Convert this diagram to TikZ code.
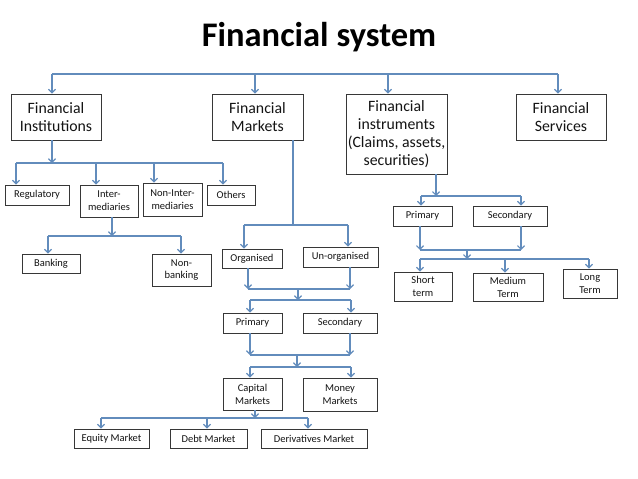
\documentclass[tikz,border=0pt]{standalone}
\usepackage{fontspec}
\setmainfont{Carlito}
\usepackage{tikz}
\usetikzlibrary{
  arrows.meta,
  positioning,
  calc
}
\definecolor{linkcolor}{RGB}{98, 140, 188}
\definecolor{boxcolor}{RGB}{55, 55, 55}
\definecolor{labelcolor}{RGB}{20, 20, 20}
\tikzset{
boxtext/.style={
  align=center,
  text=labelcolor
},
mainblock/.style={
  draw=boxcolor,
  line width=0.9pt,
  fill=white,
  inner sep=0pt,
  font=\fontsize{15.8}{18}\selectfont,
  boxtext
},
subblock/.style={
  draw=boxcolor,
  line width=0.9pt,
  fill=white,
  inner sep=0pt,
  font=\fontsize{10.5}{12.8}\selectfont,
  boxtext
},
titlelabel/.style={
  font=\fontsize{34.5}{38}\selectfont\bfseries,
  text=black
},
busline/.style={
  line width=1.2pt,
  draw=linkcolor
},
arrow/.style={
  -{Straight Barb[length=3.5pt,width=7pt]},
  line width=1.2pt,
  draw=linkcolor
}
}

\begin{document}
\begin{tikzpicture}[x=1pt, y=-1pt]

\useasboundingbox (0,0) rectangle (638,479);

% ============================================================================
% TITULO E NIVEL SUPERIOR
% ============================================================================
\node[titlelabel] (title) at (319,37) {Financial system};

\node[mainblock, minimum width=90, minimum height=46] (finst) at (56,117) {Financial\\Institutions};
\node[mainblock, minimum width=91, minimum height=46] (fmark) at (257.5,117) {Financial\\Markets};
\node[mainblock, minimum width=101, minimum height=80] (fintr) at (396.5,134) {Financial\\instruments\\(Claims, assets,\\securities)};
\node[mainblock, minimum width=90, minimum height=46] (fserv) at (561,117) {Financial\\Services};

\coordinate (top1) at (52,74);
\coordinate (top2) at (255,74);
\coordinate (top3) at (388,74);
\coordinate (top4) at (558,74);
\draw[busline] (top1) -- (top4);
\draw[arrow] (top1) -- (top1 |- finst.north);
\draw[arrow] (top2) -- (top2 |- fmark.north);
\draw[arrow] (top3) -- (top3 |- fintr.north);
\draw[arrow] (top4) -- (top4 |- fserv.north);

% ============================================================================
% INSTITUICOES
% ============================================================================
\node[subblock, minimum width=64, minimum height=20] (regul) at (37,195) {Regulatory};
\node[subblock, minimum width=58, minimum height=32] (inter) at (109,201) {Inter-\\mediaries};
\node[subblock, minimum width=59, minimum height=33] (noninter) at (172.5,199.5) {Non-Inter-\\mediaries};
\node[subblock, minimum width=48, minimum height=20] (others) at (231,195) {Others};

\coordinate (inst0) at (52,163);
\coordinate (inst1) at (16,163);
\coordinate (inst2) at (96,163);
\coordinate (inst3) at (154,163);
\coordinate (inst4) at (223,163);
\draw[arrow] (inst0 |- finst.south) -- (inst0);
\draw[busline] (inst1) -- (inst4);
\draw[arrow] (inst1) -- (inst1 |- regul.north);
\draw[arrow] (inst2) -- (inst2 |- inter.north);
\draw[arrow] (inst3) -- (inst3 |- noninter.north);
\draw[arrow] (inst4) -- (inst4 |- others.north);

\node[subblock, minimum width=58, minimum height=19] (bank) at (51,263.5) {Banking};
\node[subblock, minimum width=59, minimum height=32] (nonbank) at (181.5,270) {Non-\\banking};

\coordinate (med0) at (112,236);
\coordinate (med1) at (48,236);
\coordinate (med2) at (181,236);
\draw[arrow] (med0 |- inter.south) -- (med0);
\draw[busline] (med1) -- (med2);
\draw[arrow] (med1) -- (med1 |- bank.north);
\draw[arrow] (med2) -- (med2 |- nonbank.north);

% ============================================================================
% MERCADOS
% ============================================================================
\node[subblock, minimum width=60, minimum height=19] (organ) at (252,258.5) {Organised};
\node[subblock, minimum width=75, minimum height=20] (unorgan) at (340.5,257) {Un-organised};

\coordinate (mk0) at (293,225);
\coordinate (mk1) at (244,225);
\coordinate (mk2) at (348,225);
\draw[busline] (mk0 |- fmark.south) -- (mk0);
\draw[busline] (mk1) -- (mk2);
\draw[arrow] (mk1) -- (mk1 |- organ.north);
\draw[arrow] (mk2) -- (mk2 |- unorgan.north);

\node[subblock, minimum width=59, minimum height=20] (mprim) at (252.5,323) {Primary};
\node[subblock, minimum width=74, minimum height=20] (msec) at (340,323) {Secondary};

\coordinate (oa1) at (248,289);
\coordinate (oa2) at (350,289);
\coordinate (oa0) at (298,289);
\coordinate (ob0) at (298,300);
\coordinate (ob1) at (250,300);
\coordinate (ob2) at (351,300);
\draw[arrow] (oa1 |- organ.south) -- (oa1);
\draw[arrow] (oa2 |- unorgan.south) -- (oa2);
\draw[busline] (oa1) -- (oa2);
\draw[arrow] (oa0) -- (ob0);
\draw[busline] (ob1) -- (ob2);
\draw[arrow] (ob1) -- (ob1 |- mprim.north);
\draw[arrow] (ob2) -- (ob2 |- msec.north);

\node[subblock, minimum width=59, minimum height=32] (capm) at (252.5,394) {Capital\\Markets};
\node[subblock, minimum width=74, minimum height=33] (monm) at (340,394.5) {Money\\Markets};

\coordinate (pa1) at (250,355);
\coordinate (pa2) at (350,355);
\coordinate (pa0) at (297,355);
\coordinate (pb0) at (297,367);
\coordinate (pb1) at (250,367);
\coordinate (pb2) at (351,367);
\draw[arrow] (pa1 |- mprim.south) -- (pa1);
\draw[arrow] (pa2 |- msec.south) -- (pa2);
\draw[busline] (pa1) -- (pa2);
\draw[arrow] (pa0) -- (pb0);
\draw[busline] (pb1) -- (pb2);
\draw[arrow] (pb1) -- (pb1 |- capm.north);
\draw[arrow] (pb2) -- (pb2 |- monm.north);

\node[subblock, minimum width=75, minimum height=19] (equity) at (111.5,438.5) {Equity Market};
\node[subblock, minimum width=77, minimum height=19] (debt) at (208.5,438.5) {Debt Market};
\node[subblock, minimum width=106, minimum height=19] (deriv) at (314,438.5) {Derivatives Market};

\coordinate (cp0) at (255,418);
\coordinate (cp1) at (101,418);
\coordinate (cp2) at (207,418);
\coordinate (cp3) at (308,418);
\draw[arrow] (cp0 |- capm.south) -- (cp0);
\draw[busline] (cp1) -- (cp3);
\draw[arrow] (cp1) -- (cp1 |- equity.north);
\draw[arrow] (cp2) -- (cp2 |- debt.north);
\draw[arrow] (cp3) -- (cp3 |- deriv.north);

% ============================================================================
% INSTRUMENTOS
% ============================================================================
\node[subblock, minimum width=59, minimum height=20] (iprim) at (422.5,216) {Primary};
\node[subblock, minimum width=74, minimum height=20] (isec) at (510,216) {Secondary};

\coordinate (in0) at (436,196);
\coordinate (in1) at (421,196);
\coordinate (in2) at (521,196);
\draw[arrow] (in0 |- fintr.south) -- (in0);
\draw[busline] (in1) -- (in2);
\draw[arrow] (in1) -- (in1 |- iprim.north);
\draw[arrow] (in2) -- (in2 |- isec.north);

\node[subblock, minimum width=58, minimum height=29] (short) at (423,286.5) {Short\\term};
\node[subblock, minimum width=70, minimum height=28] (medium) at (508,287) {Medium\\Term};
\node[subblock, minimum width=54, minimum height=29] (long) at (590,283.5) {Long\\Term};

\coordinate (ia1) at (420,250);
\coordinate (ia2) at (521,250);
\coordinate (ia0) at (467,250);
\coordinate (ib0) at (467,259);
\coordinate (ib1) at (420,259);
\coordinate (ib2) at (505,259);
\coordinate (ib3) at (589,259);
\draw[arrow] (ia1 |- iprim.south) -- (ia1);
\draw[arrow] (ia2 |- isec.south) -- (ia2);
\draw[busline] (ia1) -- (ia2);
\draw[arrow] (ia0) -- (ib0);
\draw[busline] (ib1) -- (ib3);
\draw[arrow] (ib1) -- (ib1 |- short.north);
\draw[arrow] (ib2) -- (ib2 |- medium.north);
\draw[arrow] (ib3) -- (ib3 |- long.north);

\end{tikzpicture}
\end{document}
